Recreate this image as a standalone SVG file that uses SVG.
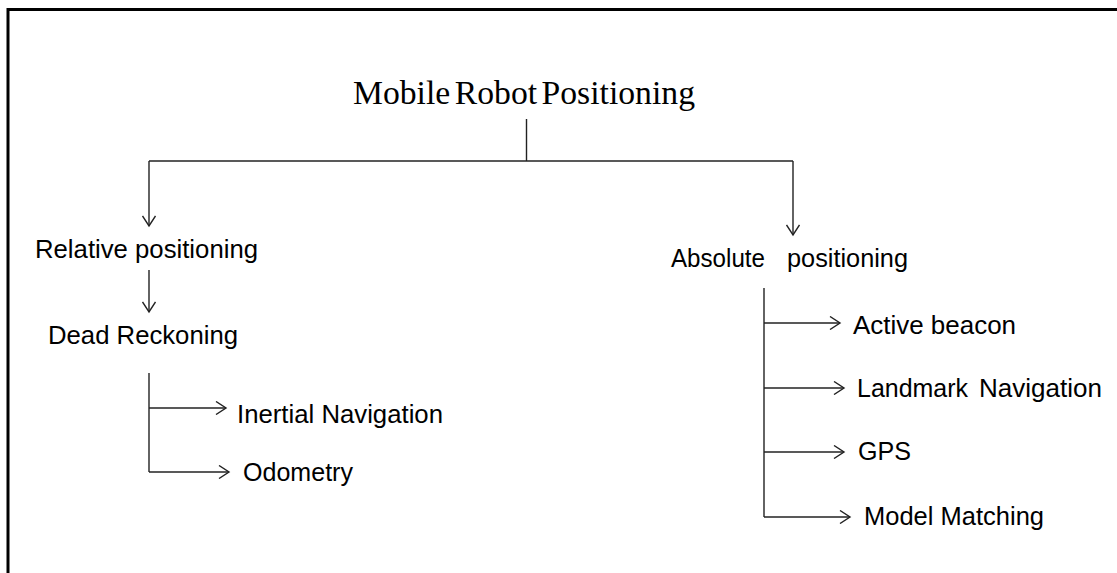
<svg xmlns="http://www.w3.org/2000/svg" width="1117" height="573" viewBox="0 0 1117 573">
  <style>
    .frame { stroke: #000; stroke-width: 3; fill: none; }
    .title { font-family: "Liberation Serif", "Times New Roman", serif; font-size: 34px; word-spacing: -4px; fill: #000; }
    .label { font-family: "Liberation Sans", Arial, sans-serif; font-size: 25px; fill: #000; }
    .conn path { stroke: #222; stroke-width: 1.4; fill: none; }
    .conn path.arrow { marker-end: url(#openArrow); }
  </style>
  <defs>
    <marker id="openArrow" markerUnits="userSpaceOnUse" viewBox="-12 -7 14 14" refX="0" refY="0" markerWidth="14" markerHeight="14" orient="auto">
      <path d="M -10 -6.5 L 0 0 L -10 6.5" fill="none" stroke="#222" stroke-width="1.4"/>
    </marker>
  </defs>

  <rect width="1117" height="573" fill="#fff"/>

  <!-- page frame: top and left edges -->
  <g id="frame">
    <path class="frame" d="M 8 573 V 9.5 H 1117"/>
  </g>

  <!-- connectors -->
  <g id="connectors" class="conn">
    <path d="M 526.5 119 V 161"/>
    <path d="M 149 161 H 793"/>
    <path class="arrow" d="M 149 161 V 226"/>
    <path class="arrow" d="M 793 161 V 235"/>
    <path class="arrow" d="M 149 270 V 312"/>
    <path d="M 149 373 V 472"/>
    <path class="arrow" d="M 149 408 H 226"/>
    <path class="arrow" d="M 149 472 H 229"/>
    <path d="M 764 288 V 517"/>
    <path class="arrow" d="M 764 323 H 840"/>
    <path class="arrow" d="M 764 388 H 844"/>
    <path class="arrow" d="M 764 452 H 844"/>
    <path class="arrow" d="M 764 517 H 850"/>
  </g>

  <g id="node-root">
    <text class="title" x="353" y="104" textLength="342" lengthAdjust="spacingAndGlyphs">Mobile Robot Positioning</text>
  </g>
  <g id="node-relative">
    <text class="label" x="35" y="258" textLength="223" lengthAdjust="spacingAndGlyphs">Relative positioning</text>
  </g>
  <g id="node-dead-reckoning">
    <text class="label" x="48" y="344" textLength="190" lengthAdjust="spacingAndGlyphs">Dead Reckoning</text>
  </g>
  <g id="node-inertial">
    <text class="label" x="237" y="423" textLength="206" lengthAdjust="spacingAndGlyphs">Inertial Navigation</text>
  </g>
  <g id="node-odometry">
    <text class="label" x="243" y="481" textLength="110" lengthAdjust="spacingAndGlyphs">Odometry</text>
  </g>
  <g id="node-absolute">
    <text class="label" y="267"><tspan x="671" textLength="94" lengthAdjust="spacingAndGlyphs">Absolute</tspan><tspan x="787" textLength="121" lengthAdjust="spacingAndGlyphs">positioning</tspan></text>
  </g>
  <g id="node-active-beacon">
    <text class="label" x="853" y="334" textLength="163" lengthAdjust="spacingAndGlyphs">Active beacon</text>
  </g>
  <g id="node-landmark">
    <text class="label" y="397"><tspan x="857" textLength="111" lengthAdjust="spacingAndGlyphs">Landmark</tspan><tspan x="979" textLength="123" lengthAdjust="spacingAndGlyphs">Navigation</tspan></text>
  </g>
  <g id="node-gps">
    <text class="label" x="858" y="460" textLength="53" lengthAdjust="spacingAndGlyphs">GPS</text>
  </g>
  <g id="node-model-matching">
    <text class="label" x="864" y="525" textLength="180" lengthAdjust="spacingAndGlyphs">Model Matching</text>
  </g>
</svg>
